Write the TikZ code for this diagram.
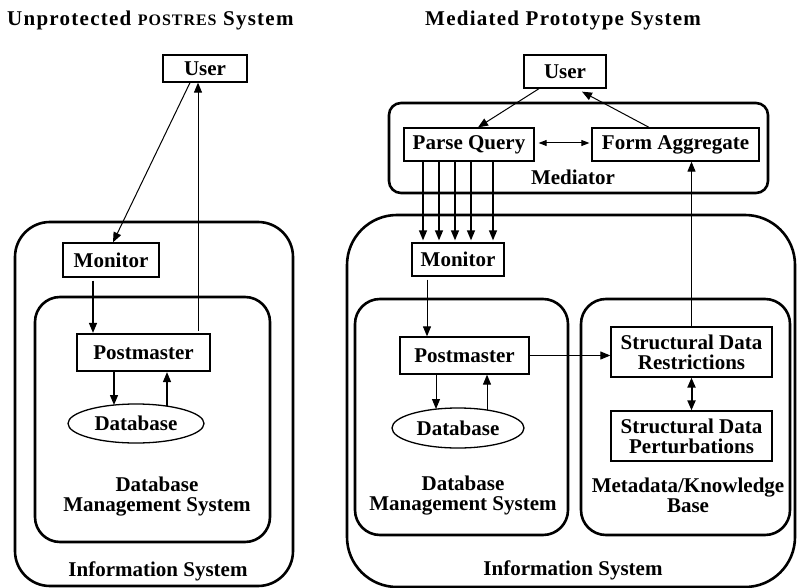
\documentclass[tikz,border=0pt]{standalone}
\usepackage{fontspec}
\setmainfont{Liberation Serif}
\newfontfamily\ttlfont{Liberation Serif}[LetterSpace=6]
\usetikzlibrary{arrows.meta,shapes.geometric,calc}
\begin{document}
\begin{tikzpicture}[x=1pt,y=-1pt,
  lbl/.style={font=\fontsize{21}{20}\selectfont\bfseries, align=center, inner sep=0pt},
  ttl/.style={font=\ttlfont\fontsize{21}{20}\selectfont\bfseries, inner sep=0pt},
  box/.style={draw, line width=1.3pt, inner sep=0pt, font=\fontsize{21}{20}\selectfont\bfseries, align=center},
  dbell/.style={draw, ellipse, line width=1.3pt, inner sep=0pt, font=\fontsize{21}{20}\selectfont\bfseries},
  frame/.style={draw, line width=2.6pt, inner sep=0pt},
  arr/.style={-{Triangle[length=10pt,width=8pt]}, line width=1.3pt},
  darr/.style={{Triangle[length=10pt,width=8pt]}-{Triangle[length=10pt,width=8pt]}, line width=2pt},
  tarr/.style={{Triangle[length=8pt,width=6pt]}-{Triangle[length=8pt,width=6pt]}, line width=1pt}
]
\useasboundingbox (0,0) rectangle (797,588);
% titles
\node[ttl, anchor=west] (titleL) at (7,20) {Unprotected {\fontsize{16}{16}\selectfont POSTRES} System};
\node[ttl, anchor=west] (titleR) at (425,20) {Mediated Prototype System};

% ---------------- left -----------------
\node[frame, rounded corners=35pt, minimum width=278pt, minimum height=364pt] (outerL) at (154,404) {};
\node[frame, rounded corners=25pt, minimum width=235pt, minimum height=245pt] (dbmsL) at (152.5,419.5) {};
\node[box, minimum width=84pt, minimum height=27pt] (userL) at (205,68.5) {User};
\node[box, minimum width=96pt, minimum height=34pt] (monL) at (111,260) {Monitor};
\node[box, line width=2.2pt, minimum width=133pt, minimum height=37pt] (pmL) at (143.5,352.5) {Postmaster};
\node[dbell, minimum width=136pt, minimum height=39pt] (dbL) at (136,423.5) {Database};
\node[lbl] (dbmsLlbl) at (157,497) {Database\\Management System};
\node[lbl] (infoLlbl) at (158,571) {Information System};

\draw[arr, line width=1pt] ($(userL.south)+(-15,0)$) -- ($(monL.north)+(2,0)$);
\draw[arr] ($(monL.south)+(-18,3)$) -- ($(pmL.north)+(-50.5,0)$);
\draw[arr] ($(pmL.south)+(-29.5,0)$) -- ($(dbL.center)+(-22,-18.5)$);
\draw[arr] ($(dbL.center)+(31,-17.4)$) -- ($(pmL.south)+(23.5,0)$);
\draw[arr, line width=1pt] ($(pmL.north)+(54.5,-2)$) -- ($(userL.south)+(-7,0)$);

% ---------------- right -----------------
\node[frame, rounded corners=50pt, minimum width=448pt, minimum height=372pt] (outerR) at (571,401) {};
\node[frame, rounded corners=12pt, minimum width=379pt, minimum height=90pt] (medR) at (578.5,148) {};
\node[frame, rounded corners=25pt, minimum width=213pt, minimum height=236pt] (dbmsR) at (461.5,417) {};
\node[frame, rounded corners=25pt, minimum width=209pt, minimum height=236pt] (metaR) at (685.5,417) {};

\node[box, minimum width=82pt, minimum height=33pt] (userR) at (565,71.5) {User};
\node[box, minimum width=130pt, minimum height=33pt] (pq) at (469,144.5) {Parse Query};
\node[box, minimum width=167pt, minimum height=33pt] (fa) at (675.5,144.5) {Form Aggregate};
\node[lbl] (medlbl) at (573,177) {Mediator};
\node[box, minimum width=92pt, minimum height=33pt] (monR) at (458,259.5) {Monitor};
\node[box, minimum width=129pt, minimum height=37pt] (pmR) at (464.5,355.5) {Postmaster};
\node[dbell, minimum width=132pt, minimum height=40pt] (dbR) at (458,428) {Database};
\node[box, minimum width=161pt, minimum height=50pt] (sdr) at (691.5,352) {Structural Data\\Restrictions};
\node[box, minimum width=161pt, minimum height=50pt] (sdp) at (691.5,436) {Structural Data\\Perturbations};
\node[lbl] (dbmsRlbl) at (463,495.5) {Database\\Management System};
\node[lbl] (metalbl) at (688,495.5) {Metadata/Knowledge\\Base};
\node[lbl] (infoRlbl) at (573,570) {Information System};

\draw[arr, line width=1pt] ($(userR.south)+(-26,0)$) -- ($(pq.north)+(9,0)$);
\draw[arr, line width=1pt] ($(fa.north)+(-26.5,0)$) -- ($(userR.south)+(17,3)$);
\draw[tarr] ($(pq.east)+(4,-1.5)$) -- ($(fa.west)+(-2,-1.5)$);
\foreach \a/\b in {-46/-35,-30/-19,-14/-3,2/13,24/35}
  \draw[arr] ($(pq.south)+(\a,0)$) -- ($(monR.north)+(\b,-2)$);
\draw[arr, line width=1pt] ($(monR.south)+(-31,3)$) -- ($(pmR.north)+(-37.5,0)$);
\draw[arr, line width=1pt] ($(pmR.south)+(-28.5,0)$) -- ($(dbR.center)+(-22,-19)$);
\draw[arr, line width=1pt] ($(dbR.center)+(29,-18)$) -- ($(pmR.south)+(22.5,0)$);
\draw[arr, line width=1pt] (pmR.east) -- (pmR.east -| sdr.west);
\draw[darr] (sdr.south) -- (sdp.north);
\draw[arr, line width=1pt] (sdr.north) -- (sdr.north |- fa.south);
\end{tikzpicture}
\end{document}
